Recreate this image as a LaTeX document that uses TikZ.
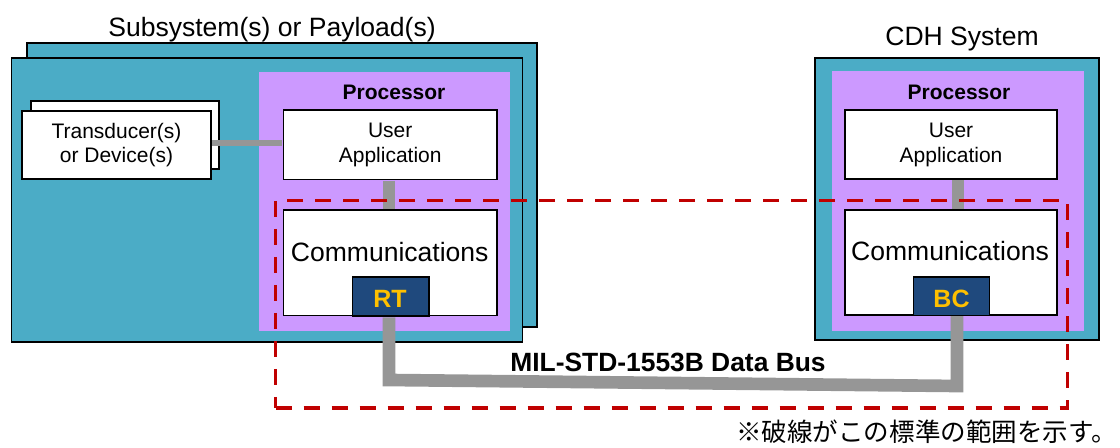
\documentclass[tikz,border=0pt]{standalone}
\usepackage{fontspec}
\setmainfont{Liberation Sans}
\newfontfamily\jpfont{Noto Sans CJK JP}
\usetikzlibrary{fit}
\definecolor{unitteal}{HTML}{4BACC6}
\definecolor{procviolet}{HTML}{CC99FF}
\definecolor{wiregray}{HTML}{969696}
\definecolor{scopered}{HTML}{C00000}
\definecolor{termblue}{HTML}{1F497D}
\definecolor{termgold}{HTML}{FFC000}
\begin{document}
\begin{tikzpicture}[x=0.75pt,y=-0.75pt,
  unitbox/.style={draw=black,line width=1.1pt,fill=unitteal,inner sep=0pt},
  procbox/.style={fill=procviolet,draw=none,inner sep=0pt},
  cardbox/.style={draw=black,line width=1.1pt,fill=white,inner sep=0pt,align=center,
    font=\fontsize{15.75}{18}\selectfont},
  termbox/.style={draw=black,line width=1.1pt,fill=termblue,inner sep=0pt},
  termtext/.style={inner sep=0pt,text=termgold,font=\fontsize{18.75}{22}\selectfont\bfseries},
  titletext/.style={inner sep=0pt,anchor=base,font=\fontsize{19.9}{23}\selectfont},
  proctext/.style={inner sep=0pt,anchor=base,font=\fontsize{15.75}{18}\selectfont\bfseries},
  commtext/.style={inner sep=0pt,anchor=base,font=\fontsize{19.9}{23}\selectfont},
  wire/.style={draw=wiregray,line width=9pt,shorten <=0.55pt,shorten >=0.55pt},
  thinwire/.style={draw=wiregray,line width=4.5pt,shorten <=0.55pt,shorten >=0.55pt},
  buswire/.style={draw=wiregray,line width=9.5pt,line join=miter,shorten <=0.55pt},
  scopeline/.style={draw=scopered,line width=2.9pt,dash pattern=on 12pt off 9pt,inner sep=0pt}
]
\useasboundingbox (0,0) rectangle (1120,448);

% ---- subsystem / payload unit (stacked) ----
\node[unitbox,fit={(27,43) (537,327)}] (subBack) {};
\node[unitbox,fit={(11.5,58) (522.5,342)}] (subFront) {};
\node[procbox,fit={(259,72) (510,331)}] (procL) {};
\node[titletext] (subTitle) at (272,36.5) {Subsystem(s) or Payload(s)};
\node[proctext] (procLText) at (394,100) {Processor};

% transducers (stacked cards)
\node[cardbox,fit={(31,101) (219,169)}] (tdBack) {};
\node[cardbox,fit={(22,111) (211,179)}] (tdFront) {};
\node[align=center,inner sep=0pt,font=\fontsize{15.75}{17.5}\selectfont] (tdText) at (tdFront.center) {Transducer(s)\\or Device(s)};

\node[cardbox,fit={(283.5,110) (497,179.5)}] (uaL) {};
\node[align=center,inner sep=0pt,font=\fontsize{15.75}{18.75}\selectfont] (uaLText) at (uaL.center) {User\\Application};
\node[cardbox,fit={(283.5,210) (497,315.5)}] (commL) {};
\node[commtext] (commLText) at (389.7,261.5) {Communications};
\node[termbox,fit={(352.5,277) (429,316)}] (rt) {};
\node[termtext,anchor=base] (rtText) at (390,307.5) {RT};

% ---- CDH system ----
\node[unitbox,fit={(815,58) (1099,340)}] (cdh) {};
\node[procbox,fit={(832,71) (1084,331)}] (procR) {};
\node[titletext] (cdhTitle) at (962,46) {CDH System};
\node[proctext] (procRText) at (959,100) {Processor};
\node[cardbox,fit={(845,110) (1057,179)}] (uaR) {};
\node[align=center,inner sep=0pt,font=\fontsize{15.75}{18.75}\selectfont] (uaRText) at (uaR.center) {User\\Application};
\node[cardbox,fit={(845,210) (1057,315)}] (commR) {};
\node[commtext] (commRText) at (950,261) {Communications};
\node[termbox,fit={(913.5,277) (989.5,315.5)}] (bc) {};
\node[termtext,anchor=base] (bcText) at (951.5,307.5) {BC};

% ---- internal links ----
\draw[thinwire] ([yshift=1.5pt]tdFront.east) -- ([yshift=1.5pt]tdFront.east -| uaL.west);
\draw[wire] ([xshift=-0.6pt]uaL.south) -- ([xshift=-0.6pt]commL.north);
\draw[wire] ([xshift=4.9pt]uaR.south) -- ([xshift=4.9pt]commR.north);

% ---- MIL-STD-1553B bus ----
\coordinate (busL) at (389,380);
\coordinate (busR) at (957,386);
\draw[buswire] (busL |- rt.south) -- (busL) -- (busR) -- (busR |- bc.south);
\node[inner sep=0pt,anchor=base,font=\fontsize{19.8}{23}\selectfont\bfseries] (busLabel) at (668,372) {MIL-STD-1553B Data Bus};

% ---- scope of the standard ----
\node[scopeline,fit={(275.5,200.5) (1067.5,408)}] (scopeArea) {};
\node[inner sep=0pt,anchor=west,font=\jpfont\fontsize{19.15}{23}\selectfont] (scopeNote) at (736,431.5) {※破線がこの標準の範囲を示す。};
\end{tikzpicture}
\end{document}
